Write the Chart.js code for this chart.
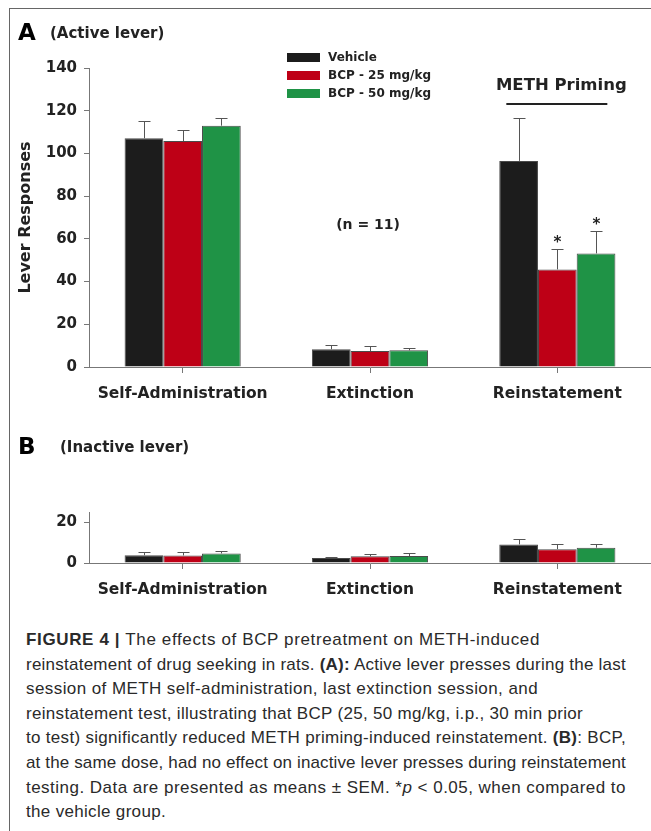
<!DOCTYPE html>
<html>
<head>
<meta charset="utf-8">
<script src="https://cdn.jsdelivr.net/npm/chart.js@4.4.1/dist/chart.umd.min.js"></script>
<style>
  body { margin: 0; background: #fff; width: 651px; height: 831px; overflow: hidden; position: relative; }
  #frame { position: absolute; left: 9px; top: 8px; width: 642px; height: 823px; border-top: 1px solid #666; border-left: 1px solid #666; box-sizing: border-box; }
  #chartA { position: absolute; left: 0; top: 0; }
  #chartB { position: absolute; left: 0; top: 420px; }
  .caption { position: absolute; left: 26px; top: 628px; font-family: "Liberation Sans", Arial, sans-serif; font-size: 17px; line-height: 24.6px; color: #2a2a2a; }
  .caption div { white-space: nowrap; display: table; }
</style>
</head>
<body>
<div id="frame"></div>
<canvas id="chartA" width="651" height="410"></canvas>
<canvas id="chartB" width="651" height="190"></canvas>
<div class="caption" id="caption">
  <div><b>FIGURE 4 |</b> The effects of BCP pretreatment on METH-induced</div>
  <div>reinstatement of drug seeking in rats. <b>(A):</b> Active lever presses during the last</div>
  <div>session of METH self-administration, last extinction session, and</div>
  <div>reinstatement test, illustrating that BCP (25, 50 mg/kg, i.p., 30 min prior</div>
  <div>to test) significantly reduced METH priming-induced reinstatement. <b>(B)</b>: BCP,</div>
  <div>at the same dose, had no effect on inactive lever presses during reinstatement</div>
  <div>testing. Data are presented as means ± SEM. *<i>p</i> &lt; 0.05, when compared to</div>
  <div>the vehicle group.</div>
</div>
<script>
const phases = ["Self-Administration", "Extinction", "Reinstatement"];
const groups = ["Vehicle", "BCP - 25 mg/kg", "BCP - 50 mg/kg"];
const colors = ["#1c1c1c", "#be0016", "#1f9346"];

// panel A, active lever (mean, SEM)
const activeVehicle = [107.1, 8.3, 96.5];
const activeVehicleSem = [7.9, 2.0, 20.2];
const activeBcp25 = [105.8, 7.5, 45.7];
const activeBcp25Sem = [5.2, 2.2, 9.4];
const activeBcp50 = [113.0, 7.8, 53.2];
const activeBcp50Sem = [3.7, 1.1, 10.3];
const activeBcp25Sig = [false, false, true];
const activeBcp50Sig = [false, false, true];
const activeTicks = [0, 20, 40, 60, 80, 100, 120, 140];

// panel B, inactive lever
const inactiveVehicle = [3.8, 2.4, 9.1];
const inactiveVehicleSem = [1.4, 0.5, 2.6];
const inactiveBcp25 = [3.7, 3.3, 6.8];
const inactiveBcp25Sem = [1.5, 0.9, 2.5];
const inactiveBcp50 = [4.7, 3.4, 7.5];
const inactiveBcp50Sem = [1.3, 1.5, 2.0];
const inactiveTicks = [0, 20];

// caption line widths in the figure
const captionWidths = [514, 600, 512, 557, 600, 600, 600, 140];

const FONT = "'DejaVu Sans', sans-serif";
const INK = "#222";
const AXIS = "#777";

// stretch each caption line to the width it has in the figure
document.querySelectorAll("#caption div").forEach((line, i) => {
  const natural = line.getBoundingClientRect().width;
  const chars = line.textContent.length;
  line.style.letterSpacing = ((captionWidths[i] - natural) / chars).toFixed(3) + "px";
});

const errorBars = {
  id: "errorBars",
  afterDatasetsDraw(chart) {
    const { ctx } = chart;
    const y = chart.scales.y;
    ctx.save();
    ctx.strokeStyle = "#555";
    ctx.lineWidth = 1;
    chart.data.datasets.forEach((ds, i) => {
      chart.getDatasetMeta(i).data.forEach((bar, j) => {
        const top = Math.round(y.getPixelForValue(ds.data[j] + ds.sem[j])) + 0.5;
        const x = Math.round(bar.x) + 0.5;
        ctx.beginPath();
        ctx.moveTo(x, bar.y);
        ctx.lineTo(x, top);
        ctx.moveTo(x - 6, top);
        ctx.lineTo(x + 6, top);
        ctx.stroke();
        if (ds.sig && ds.sig[j]) {
          ctx.fillStyle = INK;
          ctx.font = "bold 15px " + FONT;
          ctx.textAlign = "center";
          ctx.textBaseline = "alphabetic";
          ctx.fillText("*", x, top - 3);
        }
      });
    });
    ctx.restore();
  }
};

function panelTitle(ctx, letter, text, yMid, textX) {
  ctx.fillStyle = "#000";
  ctx.textBaseline = "middle";
  ctx.textAlign = "left";
  ctx.font = "bold 23px " + FONT;
  ctx.fillText(letter, 18, yMid);
  ctx.fillStyle = INK;
  ctx.font = "bold 15px " + FONT;
  ctx.fillText(text, textX, yMid);
}

const extrasA = {
  id: "extrasA",
  afterDraw(chart) {
    const { ctx } = chart;
    const x = chart.scales.x;
    ctx.save();
    panelTitle(ctx, "A", "(Active lever)", 34, 50);
    // legend
    chart.data.datasets.forEach((ds, i) => {
      ctx.fillStyle = ds.backgroundColor;
      ctx.fillRect(287, 53 + 18 * i, 33, 9);
      ctx.fillStyle = INK;
      ctx.font = "bold 12px " + FONT;
      ctx.textAlign = "left";
      ctx.textBaseline = "middle";
      ctx.fillText(ds.label, 328, 58 + 18 * i);
    });
    // METH priming bracket
    const cx = x.getPixelForValue(2);
    ctx.textAlign = "center";
    ctx.font = "bold 16.5px " + FONT;
    ctx.fillText("METH Priming", cx + 4, 86);
    ctx.strokeStyle = INK;
    ctx.lineWidth = 2;
    ctx.beginPath();
    ctx.moveTo(cx - 51, 104);
    ctx.lineTo(cx + 50, 104);
    ctx.stroke();
    ctx.font = "bold 14px " + FONT;
    ctx.fillText("(n = 11)", x.getPixelForValue(1) - 2, 225);
    ctx.restore();
  }
};

const extrasB = {
  id: "extrasB",
  afterDraw(chart) {
    const { ctx } = chart;
    ctx.save();
    panelTitle(ctx, "B", "(Inactive lever)", 28, 60);
    ctx.restore();
  }
};

function makeDatasets(means, sems, sigs) {
  return groups.map((g, i) => ({
    label: g,
    data: means[i],
    sem: sems[i],
    sig: sigs ? sigs[i] : null,
    backgroundColor: colors[i],
    borderColor: "#4a4a4a",
    borderWidth: 1,
    barPercentage: 1,
    categoryPercentage: 0.62
  }));
}

function makeOptions(max, tickValues, xHeight, padTop, withTitle) {
  return {
    responsive: false,
    animation: false,
    layout: { padding: { top: padTop, left: 0, right: 0, bottom: 0 } },
    plugins: { legend: { display: false }, tooltip: { enabled: false } },
    scales: {
      x: {
        grid: { drawOnChartArea: false, offset: false, tickLength: 6, color: AXIS },
        border: { color: AXIS, width: 1 },
        ticks: { font: { family: FONT, size: 15.5, weight: "bold" }, color: INK, padding: 12, maxRotation: 0, autoSkip: false },
        afterFit: s => { s.height = xHeight; }
      },
      y: {
        min: 0,
        max: max,
        grid: { drawOnChartArea: false, tickLength: 5, color: AXIS },
        border: { color: AXIS, width: 1 },
        ticks: { font: { family: FONT, size: 15, weight: "bold" }, color: INK, padding: 7 },
        afterBuildTicks: s => { s.ticks = tickValues.map(v => ({ value: v })); },
        title: {
          display: withTitle,
          text: "Lever Responses",
          font: { family: FONT, size: 16, weight: "bold" },
          color: INK,
          padding: { top: 16, bottom: 0 }
        },
        afterFit: s => { s.width = 89; }
      }
    }
  };
}

new Chart(document.getElementById("chartA"), {
  type: "bar",
  data: {
    labels: phases,
    datasets: makeDatasets(
      [activeVehicle, activeBcp25, activeBcp50],
      [activeVehicleSem, activeBcp25Sem, activeBcp50Sem],
      [null, activeBcp25Sig, activeBcp50Sig]
    )
  },
  options: makeOptions(140, activeTicks, 43, 68, true),
  plugins: [errorBars, extrasA]
});

new Chart(document.getElementById("chartB"), {
  type: "bar",
  data: {
    labels: phases,
    datasets: makeDatasets(
      [inactiveVehicle, inactiveBcp25, inactiveBcp50],
      [inactiveVehicleSem, inactiveBcp25Sem, inactiveBcp50Sem],
      null
    )
  },
  options: makeOptions(25, inactiveTicks, 47, 92, false),
  plugins: [errorBars, extrasB]
});
</script>
</body>
</html>
